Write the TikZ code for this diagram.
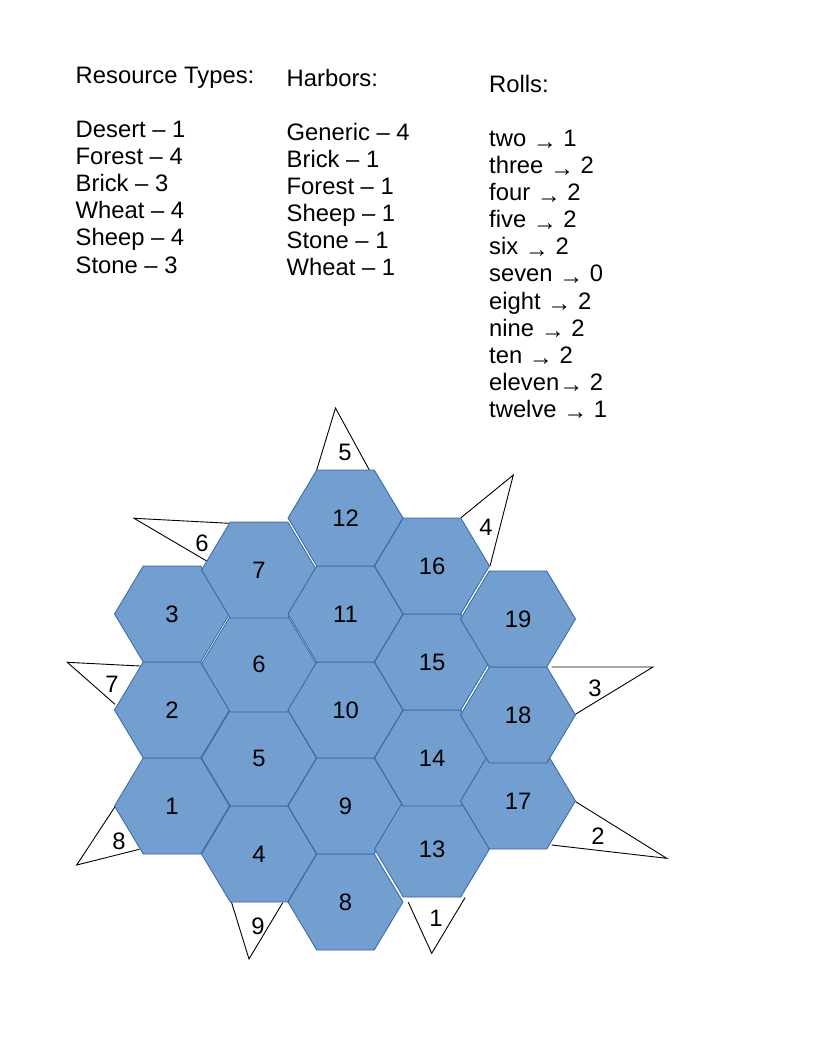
\documentclass[tikz,border=0pt]{standalone}
\usepackage{fontspec}
\setmainfont{Liberation Sans}
\usepackage{tikz}
\usepackage{xcolor}

\definecolor{hexfill}{RGB}{114,159,207}
\definecolor{hexline}{RGB}{52,101,164}
\newcommand{\rollarrow}{{\fontsize{24}{24}\selectfont\raisebox{-2.5pt}{→}}}

\begin{document}
\begin{tikzpicture}[x=1pt, y=-1pt,
			 hexagono/.style={fill=hexfill, draw=hexline, line width=0.8pt},
			 puerto/.style={draw=black, line width=0.9pt},
			 texto/.style={anchor=base west, inner sep=0pt, font=\fontsize{23.8}{27}\selectfont},
			 etiqueta/.style={inner sep=0pt, font=\fontsize{23.8}{27}\selectfont}
  		]
	\useasboundingbox (0,0) rectangle (816,1056);

	%Listas de arriba
		\node[texto] (recursos) at (75.5,84) {Resource Types:};
		\foreach \t [count=\i] in {Desert – 1, Forest – 4, Brick – 3, Wheat – 4, Sheep – 4, Stone – 3}
			\node[texto] (recurso\i) at (75.5,111+27*\i) {\t};

		\node[texto] (puertos) at (286.5,87) {Harbors:};
		\foreach \t [count=\i] in {Generic – 4, Brick – 1, Forest – 1, Sheep – 1, Stone – 1, Wheat – 1}
			\node[texto] (puerto\i) at (286.5,114+27*\i) {\t};

		\node[texto] (tiradas) at (489,93) {Rolls:};
		\foreach \t [count=\i] in {two \rollarrow\ 1, three \rollarrow\ 2, four \rollarrow\ 2, five \rollarrow\ 2, six \rollarrow\ 2, seven \rollarrow\ 0, eight \rollarrow\ 2, nine \rollarrow\ 2, ten \rollarrow\ 2, eleven\rollarrow\ 2, twelve \rollarrow\ 1}
			\node[texto] (tirada\i) at (489,120+27*\i) {\t};

	%Puertos (triangulos)
		\draw[puerto] (316.7,470) -- (335.5,408) -- (369.3,470);
		\draw[puerto] (461,517.7) -- (513.3,475) -- (490,566);
		\draw[puerto] (551.7,667) -- (653,667) -- (575,714.5);
		\draw[puerto] (575.7,801.7) -- (666.7,858.3) -- (551.7,845);
		\draw[puerto] (408.3,902.3) -- (431.7,953.3) -- (465,897.7);
		\draw[puerto] (230,897.3) -- (249,959) -- (282.7,902.7);
		\draw[puerto] (115,806.7) -- (76.7,865) -- (139.3,849.3);
		\draw[puerto] (140,666) -- (67.3,662.3) -- (115,704.3);
		\draw[puerto] (229.3,523.3) -- (134,518.3) -- (206.7,561);

	%Hexagonos del tablero
		\foreach \x/\y/\n in {172/806/1, 172/710/2, 172/614/3, 259/854/4, 259/758/5, 259/664/6, 259/570/7,
				345.5/902/8, 345.5/806/9, 345.5/710/10, 345.5/614/11, 345.5/518/12,
				432/849/13, 432/758/14, 432/662/15, 432/566/16, 518/801/17, 518/715/18, 518/619/19}
		{
			\draw[hexagono] (\x-57.5,\y) -- (\x-28.75,\y-48) -- (\x+28.75,\y-48) -- (\x+57.5,\y)
				-- (\x+28.75,\y+48) -- (\x-28.75,\y+48) -- cycle;
			\node[etiqueta] (hex\n) at (\x,\y) {\n};
		}

	%Numeros de los puertos
		\node[etiqueta] (p5) at (345,452) {5};
		\node[etiqueta] (p4) at (486,527) {4};
		\node[etiqueta] (p3) at (595,688) {3};
		\node[etiqueta] (p2) at (598,836) {2};
		\node[etiqueta] (p1) at (436,918) {1};
		\node[etiqueta] (p9) at (258,926) {9};
		\node[etiqueta] (p8) at (119,841) {8};
		\node[etiqueta] (p7) at (112,684) {7};
		\node[etiqueta] (p6) at (202,543) {6};
	\end{tikzpicture}
\end{document}
